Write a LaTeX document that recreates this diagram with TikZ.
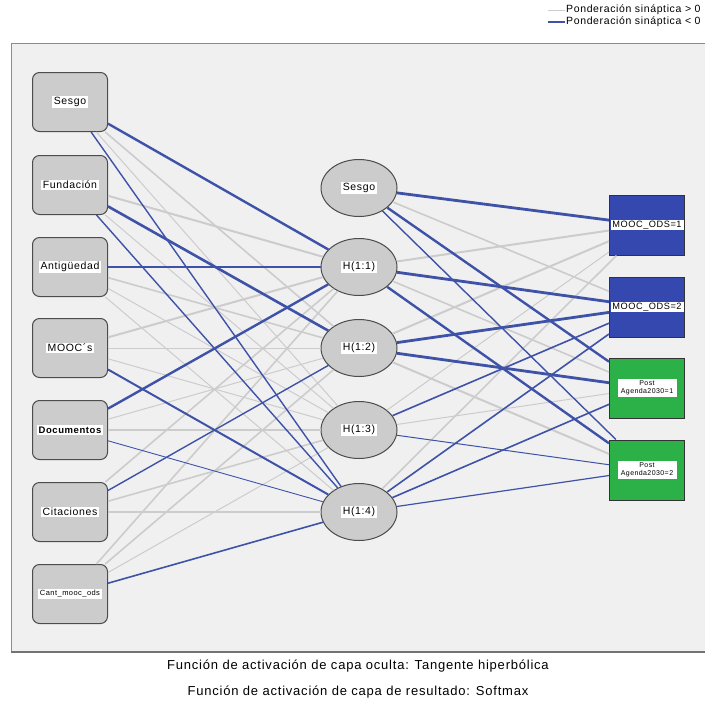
\documentclass[tikz,border=0pt]{standalone}
\usepackage{fontspec}
\setmainfont{Liberation Sans}[LetterSpace=6]
\usetikzlibrary{shapes.geometric, positioning}

\definecolor{panelbg}{RGB}{240,240,240}
\definecolor{posc}{RGB}{204,204,204}
\definecolor{negc}{RGB}{62,82,168}
\definecolor{outblue}{RGB}{52,72,176}
\definecolor{outgreen}{RGB}{44,176,72}
\definecolor{nodegray}{RGB}{204,204,204}

\tikzset{
  inbox/.style={draw=black!70, fill=nodegray, rounded corners=7pt, minimum width=75pt, minimum height=59pt, line width=1pt},
  hidnode/.style={draw=black!70, fill=nodegray, ellipse, minimum width=76pt, minimum height=57pt, line width=1pt},
  outbox/.style={draw=black!80, minimum width=75pt, minimum height=60pt, line width=1pt},
  lab/.style={fill=white, inner sep=1.5pt, font=\fontsize{10.5}{11}\selectfont}
}

\begin{document}
\begin{tikzpicture}[x=1pt, y=-1pt]
  \useasboundingbox (0,0) rectangle (705,704);
  \fill[white] (0,0) rectangle (705,704);
  \draw[fill=panelbg, draw=black!45] (11,43) rectangle (706,652);
  \draw[black!55, line width=1.5pt] (11,652) -- (706,652);

  % input layer
  \node[inbox, label={[lab]center:Sesgo}] (iSes) at (70,102) {};
  \node[inbox, label={[lab]center:Fundación}] (iFun) at (70,185) {};
  \node[inbox, label={[lab]center:Antigüedad}] (iAnt) at (70,267) {};
  \node[inbox, label={[lab]center:MOOC´s}] (iMoo) at (70,348) {};
  \node[inbox, label={[lab, font=\fontsize{9.5}{10}\selectfont\bfseries]center:Documentos}] (iDoc) at (70,430) {};
  \node[inbox, label={[lab]center:Citaciones}] (iCit) at (70,512) {};
  \node[inbox, label={[lab, font=\fontsize{7.5}{8}\selectfont]center:Cant\_mooc\_ods}] (iCan) at (70,594) {};

  % hidden layer
  \node[hidnode, label={[lab]center:Sesgo}] (hS) at (359,188) {};
  \foreach \n/\y in {1/267, 2/348, 3/430, 4/512}{
    \node[hidnode, label={[lab]center:H(1:\n)}] (h\n) at (359,\y) {};
  };

  % output layer
  \node[outbox, fill=outblue, label={[lab, text width=72pt, align=center, inner sep=0.5pt, font=\fontsize{9.2}{10}\selectfont]center:MOOC\_ODS=1}] (o1) at (647,225) {};
  \node[outbox, fill=outblue, label={[lab, text width=72pt, align=center, inner sep=0.5pt, font=\fontsize{9.2}{10}\selectfont]center:MOOC\_ODS=2}] (o2) at (647,307) {};
  \node[outbox, fill=outgreen, label={[lab, text width=56pt, align=center, font=\fontsize{7}{8}\selectfont]center:Post\\Agenda2030=1}] (o3) at (647,388) {};
  \node[outbox, fill=outgreen, label={[lab, text width=56pt, align=center, font=\fontsize{7}{8}\selectfont]center:Post\\Agenda2030=2}] (o4) at (647,470) {};

  % weights > 0
  \foreach \a/\b/\w in {iSes/h2/1.6, iSes/h3/1.0, iFun/h1/2.0, iFun/h3/1.0, iAnt/h2/1.6, iAnt/h3/1.0, iAnt/h4/1.0,
      iMoo/h1/2.0, iMoo/h2/1.0, iMoo/h3/1.0, iDoc/h2/1.0, iDoc/h3/1.6, iCit/h1/1.6, iCit/h3/1.6, iCit/h4/1.6,
      iCan/h1/1.6, iCan/h2/1.6, iCan/h3/1.0,
      hS/o2/1.6, h1/o1/2.0, h1/o3/1.6, h2/o1/2.0, h2/o4/2.0, h3/o1/1.0, h3/o3/1.0, h4/o1/1.6}{
    \draw[posc, line width=\w pt] (\a) -- (\b);
  };
  % weights < 0
  \foreach \a/\b/\w in {iSes/h1/2.4, iSes/h4/1.4, iFun/h2/2.6, iFun/h4/1.4, iAnt/h1/2.6, iMoo/h4/2.0,
      iDoc/h1/2.4, iDoc/h4/0.9, iCit/h2/1.4, iCan/h4/1.6,
      hS/o1/2.8, hS/o3/2.4, hS/o4/1.4, h1/o2/2.8, h1/o4/2.4, h2/o2/2.8, h2/o3/2.8,
      h3/o2/1.6, h3/o4/1.0, h4/o2/1.6, h4/o3/1.6, h4/o4/1.2}{
    \draw[negc, line width=\w pt] (\a) -- (\b);
  };

  % legend
  \coordinate (lgA) at (548,10);
  \coordinate (lgB) at (565,10);
  \coordinate (lgC) at (548,22);
  \coordinate (lgD) at (565,22);
  \draw[posc, line width=1pt] (lgA) -- (lgB);
  \draw[negc, line width=1.4pt] (lgC) -- (lgD);
  \node[right, inner sep=1pt, font=\fontsize{10.5}{11}\selectfont] (lgpos) at (lgB) {Ponderación sináptica > 0};
  \node[right, inner sep=1pt, font=\fontsize{10.5}{11}\selectfont] (lgneg) at (lgD) {Ponderación sináptica < 0};

  % footer
  \node[font=\fontsize{13}{14}\selectfont] (foot1) at (358,666) {Función de activación de capa oculta: Tangente hiperbólica};
  \node[font=\fontsize{13}{14}\selectfont] (foot2) at (358,692) {Función de activación de capa de resultado: Softmax};
\end{tikzpicture}
\end{document}
